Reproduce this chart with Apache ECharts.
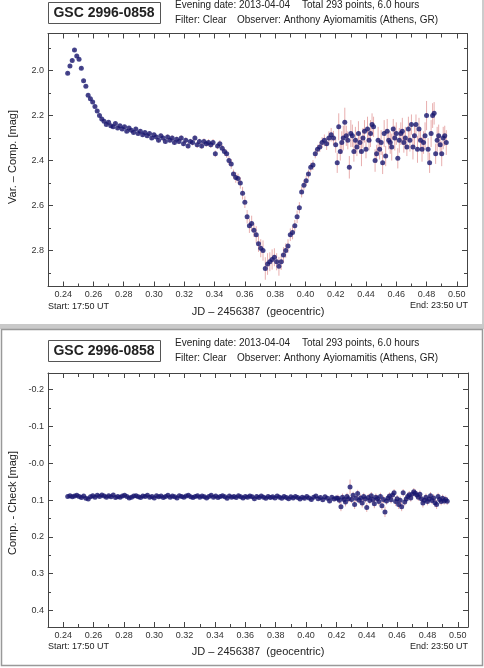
<!DOCTYPE html>
<html>
<head>
<meta charset="utf-8">
<title>GSC 2996-0858</title>
<script src="https://cdn.jsdelivr.net/npm/echarts@6.0.0/dist/echarts.min.js"></script>
<style>
  html, body { margin: 0; padding: 0; background: #fff; }
  #chart { width: 484px; height: 668px; }
</style>
</head>
<body>
<div id="chart"></div>
<script>
// time (JD - 2456387), one row = 10 points
var jd = [
  0.2430,0.2445,0.2460,0.2475,0.2490,0.2505,0.2520,0.2535,0.2550,0.2565,
  0.2580,0.2595,0.2610,0.2625,0.2640,0.2655,0.2670,0.2685,0.2700,0.2715,
  0.2730,0.2745,0.2760,0.2775,0.2790,0.2805,0.2820,0.2835,0.2850,0.2865,
  0.2880,0.2895,0.2910,0.2925,0.2940,0.2955,0.2970,0.2985,0.3000,0.3015,
  0.3030,0.3045,0.3060,0.3075,0.3090,0.3105,0.3120,0.3135,0.3150,0.3165,
  0.3180,0.3195,0.3210,0.3225,0.3240,0.3255,0.3270,0.3285,0.3300,0.3315,
  0.3330,0.3345,0.3360,0.3375,0.3390,0.3405,0.3420,0.3435,0.3450,0.3465,
  0.3480,0.3495,0.3510,0.3525,0.3540,0.3555,0.3570,0.3585,0.3600,0.3615,
  0.3630,0.3645,0.3660,0.3675,0.3690,0.3705,0.3720,0.3735,0.3750,0.3765,
  0.3780,0.3795,0.3810,0.3825,0.3840,0.3855,0.3870,0.3885,0.3900,0.3915,
  0.3930,0.3945,0.3960,0.3975,0.3990,0.4005,0.4020,0.4035,0.4050,0.4065,
  0.4080,0.4095,0.4110,0.4125,0.4140,0.4155,0.4170,0.4185,0.4200,
  0.421,0.422,0.423,0.424,0.425,0.426,0.427,0.428,0.429,0.430,
  0.431,0.432,0.433,0.434,0.435,0.436,0.437,0.438,0.439,0.440,
  0.441,0.442,0.443,0.444,0.445,0.446,0.447,0.448,0.449,0.450,
  0.451,0.452,0.453,0.454,0.455,0.456,0.457,0.458,0.459,0.460,
  0.461,0.462,0.463,0.464,0.465,0.466,0.467,0.468,0.469,0.470,
  0.471,0.472,0.473,0.474,0.475,0.476,0.477,0.478,0.479,0.480,
  0.481,0.482,0.483,0.484,0.485,0.486,0.487,0.488,0.489,0.490,
  0.491,0.492,0.493
];

// Var. - Comp. [mag]
var varComp = [
  2.012,1.980,1.955,1.908,1.935,1.950,1.990,2.045,2.070,2.110,
  2.125,2.140,2.160,2.180,2.200,2.215,2.225,2.240,2.230,2.245,
  2.250,2.235,2.255,2.245,2.260,2.250,2.270,2.255,2.265,2.275,
  2.260,2.280,2.270,2.285,2.275,2.290,2.280,2.300,2.285,2.295,
  2.310,2.290,2.300,2.315,2.295,2.310,2.300,2.320,2.305,2.315,
  2.300,2.325,2.310,2.335,2.315,2.320,2.300,2.330,2.315,2.335,
  2.315,2.325,2.320,2.330,2.320,2.370,2.335,2.325,2.345,2.360,
  2.370,2.400,2.415,2.460,2.475,2.480,2.500,2.545,2.585,2.650,
  2.690,2.680,2.710,2.730,2.770,2.790,2.800,2.880,2.860,2.850,
  2.840,2.830,2.850,2.870,2.850,2.820,2.800,2.780,2.730,2.720,
  2.690,2.650,2.610,2.540,2.510,2.490,2.460,2.430,2.420,2.370,
  2.350,2.340,2.320,2.310,2.325,2.300,2.285,2.300,2.330,
  2.41,2.25,2.36,2.32,2.30,2.23,2.29,2.31,2.43,2.28,
  2.29,2.36,2.31,2.34,2.28,2.32,2.36,2.30,2.27,2.35,
  2.26,2.31,2.28,2.24,2.25,2.40,2.37,2.31,2.35,2.32,
  2.41,2.28,2.38,2.27,2.31,2.32,2.34,2.26,2.30,2.28,
  2.39,2.31,2.28,2.27,2.32,2.30,2.34,2.26,2.31,2.24,
  2.34,2.29,2.24,2.35,2.26,2.31,2.35,2.32,2.29,2.20,
  2.35,2.41,2.28,2.20,2.19,2.37,2.31,2.29,2.33,2.37,
  2.30,2.29,2.32
];

var varErr = [
  0.006,0.006,0.006,0.006,0.006,0.006,0.006,0.006,0.006,0.006,
  0.006,0.006,0.006,0.006,0.006,0.006,0.006,0.006,0.006,0.006,
  0.007,0.007,0.007,0.007,0.007,0.007,0.007,0.007,0.007,0.007,
  0.008,0.008,0.008,0.008,0.008,0.008,0.008,0.008,0.008,0.008,
  0.010,0.010,0.012,0.010,0.011,0.010,0.012,0.010,0.011,0.012,
  0.012,0.011,0.013,0.012,0.012,0.013,0.012,0.014,0.012,0.013,
  0.014,0.013,0.015,0.014,0.016,0.015,0.014,0.016,0.015,0.018,
  0.018,0.020,0.022,0.020,0.024,0.022,0.025,0.028,0.026,0.030,
  0.032,0.035,0.030,0.038,0.036,0.040,0.045,0.050,0.048,0.042,
  0.045,0.040,0.038,0.042,0.036,0.035,0.032,0.030,0.028,0.030,
  0.026,0.028,0.025,0.024,0.022,0.022,0.020,0.020,0.022,0.020,
  0.020,0.022,0.024,0.026,0.028,0.030,0.030,0.032,0.035,
  0.045,0.060,0.040,0.050,0.055,0.065,0.045,0.040,0.050,0.060,
  0.050,0.045,0.060,0.040,0.055,0.050,0.065,0.045,0.050,0.040,
  0.055,0.045,0.060,0.050,0.045,0.050,0.040,0.060,0.045,0.055,
  0.050,0.060,0.045,0.055,0.040,0.050,0.060,0.045,0.055,0.050,
  0.045,0.055,0.050,0.060,0.045,0.050,0.040,0.055,0.050,0.045,
  0.055,0.050,0.045,0.060,0.050,0.045,0.055,0.050,0.060,0.065,
  0.050,0.045,0.060,0.055,0.050,0.045,0.060,0.050,0.045,0.055,
  0.050,0.045,0.055
];

// Comp. - Check [mag]
var compCheck = [
  0.090,0.088,0.091,0.089,0.087,0.090,0.093,0.089,0.095,0.097,
  0.091,0.088,0.092,0.087,0.090,0.086,0.089,0.092,0.088,0.091,
  0.086,0.093,0.090,0.092,0.089,0.087,0.090,0.094,0.092,0.089,
  0.088,0.091,0.093,0.089,0.090,0.087,0.092,0.090,0.094,0.088,
  0.091,0.089,0.093,0.090,0.087,0.092,0.089,0.091,0.094,0.088,
  0.090,0.092,0.089,0.087,0.091,0.093,0.090,0.088,0.092,0.089,
  0.091,0.094,0.090,0.087,0.092,0.089,0.093,0.090,0.088,0.091,
  0.095,0.089,0.092,0.090,0.093,0.088,0.091,0.094,0.090,0.092,
  0.089,0.091,0.096,0.090,0.093,0.089,0.092,0.095,0.090,0.093,
  0.091,0.094,0.089,0.092,0.095,0.090,0.093,0.096,0.091,0.094,
  0.090,0.093,0.097,0.092,0.095,0.090,0.094,0.098,0.092,0.089,
  0.096,0.093,0.099,0.091,0.095,0.102,0.092,0.097,0.094,
  0.095,0.100,0.118,0.092,0.098,0.105,0.090,0.096,0.064,0.098,
  0.087,0.112,0.095,0.082,0.100,0.094,0.108,0.090,0.097,0.120,
  0.093,0.101,0.088,0.098,0.110,0.092,0.096,0.104,0.090,0.115,
  0.098,0.132,0.102,0.094,0.089,0.099,0.086,0.080,0.104,0.096,
  0.112,0.100,0.118,0.080,0.105,0.097,0.090,0.085,0.094,0.083,
  0.077,0.081,0.086,0.092,0.084,0.096,0.108,0.100,0.092,0.104,
  0.097,0.088,0.101,0.094,0.107,0.112,0.090,0.098,0.104,0.095,
  0.102,0.098,0.103
];

var checkErr = [
  0.004,0.004,0.004,0.004,0.004,0.004,0.004,0.004,0.004,0.004,
  0.004,0.004,0.004,0.004,0.004,0.004,0.004,0.004,0.004,0.004,
  0.004,0.004,0.004,0.004,0.004,0.004,0.004,0.004,0.004,0.004,
  0.004,0.004,0.004,0.004,0.004,0.004,0.004,0.004,0.004,0.004,
  0.004,0.004,0.004,0.004,0.004,0.004,0.004,0.004,0.004,0.004,
  0.004,0.004,0.004,0.004,0.004,0.004,0.004,0.004,0.004,0.004,
  0.004,0.004,0.004,0.004,0.004,0.004,0.004,0.004,0.004,0.004,
  0.005,0.005,0.005,0.005,0.005,0.005,0.005,0.005,0.005,0.005,
  0.005,0.005,0.005,0.005,0.005,0.005,0.005,0.005,0.005,0.005,
  0.005,0.005,0.005,0.005,0.005,0.005,0.005,0.005,0.005,0.005,
  0.005,0.005,0.005,0.005,0.005,0.005,0.005,0.005,0.005,0.005,
  0.006,0.006,0.006,0.006,0.006,0.006,0.006,0.006,0.006,
  0.010,0.010,0.012,0.010,0.010,0.012,0.010,0.010,0.020,0.010,
  0.010,0.012,0.010,0.010,0.010,0.010,0.012,0.010,0.010,0.012,
  0.010,0.010,0.010,0.010,0.012,0.010,0.010,0.010,0.010,0.012,
  0.010,0.014,0.010,0.010,0.010,0.010,0.010,0.010,0.012,0.010,
  0.012,0.010,0.012,0.010,0.010,0.010,0.010,0.010,0.010,0.010,
  0.010,0.010,0.010,0.010,0.010,0.010,0.012,0.010,0.010,0.010,
  0.010,0.010,0.010,0.010,0.012,0.012,0.010,0.010,0.010,0.010,
  0.010,0.010,0.010
];

// tick positions
var xMajor = [0.24,0.26,0.28,0.30,0.32,0.34,0.36,0.38,0.40,0.42,0.44,0.46,0.48,0.50];
var xMinor = [0.25,0.27,0.29,0.31,0.33,0.35,0.37,0.39,0.41,0.43,0.45,0.47,0.49];
var yTopMajor = [2.0,2.2,2.4,2.6,2.8];
var yTopMinor = [1.9,2.1,2.3,2.5,2.7,2.9];
var yBotMajor = [-0.2,-0.1,0.0,0.1,0.2,0.3,0.4];
var yBotMinor = [-0.15,-0.05,0.05,0.15,0.25,0.35];

var FONT = '"Liberation Sans", Arial, sans-serif';
var AXC = '#444';
var X_MIN = 0.23, X_MAX = 0.5067;
var TOP_MIN = 1.835, TOP_MAX = 2.96;
var BOT_MIN = -0.2455, BOT_MAX = 0.4447;

function xAx(grid, pos, ticks, len, labels, line) {
  return {
    type: 'value', gridIndex: grid, position: pos, min: X_MIN, max: X_MAX,
    axisLine: { show: line, onZero: false, lineStyle: { color: AXC, width: 1 } },
    axisTick: { show: true, inside: true, length: len, customValues: ticks, lineStyle: { color: AXC } },
    axisLabel: { show: labels, customValues: ticks, margin: 4, fontSize: 9, color: '#333', fontFamily: FONT,
      formatter: function (v) { return v.toFixed(2); } },
    splitLine: { show: false }
  };
}
function yAx(grid, pos, mn, mx, ticks, len, labels, line) {
  return {
    type: 'value', gridIndex: grid, position: pos, min: mn, max: mx, inverse: true,
    axisLine: { show: line, onZero: false, lineStyle: { color: AXC, width: 1 } },
    axisTick: { show: true, inside: true, length: len, customValues: ticks, lineStyle: { color: AXC } },
    axisLabel: { show: labels, customValues: ticks, margin: 4, fontSize: 9, color: '#333', fontFamily: FONT,
      formatter: function (v) { return Math.abs(v) < 1e-9 ? '-0.0' : v.toFixed(1); } },
    splitLine: { show: false }
  };
}

function renderBar(params, api) {
  var a = api.coord([api.value(0), api.value(1)]);
  var b = api.coord([api.value(0), api.value(2)]);
  return { type: 'line', shape: { x1: a[0], y1: a[1], x2: b[0], y2: b[1] },
    style: { stroke: '#e8aeae', lineWidth: 1 } };
}

var topPts = [], topBars = [], botPts = [], botBars = [];
for (var i = 0; i < jd.length; i++) {
  topPts.push([jd[i], varComp[i]]);
  topBars.push([jd[i], varComp[i] - varErr[i], varComp[i] + varErr[i]]);
  botPts.push([jd[i], compCheck[i]]);
  botBars.push([jd[i], compCheck[i] - checkErr[i], compCheck[i] + checkErr[i]]);
}

function txt(x, y, s, size, align, opts) {
  var o = { type: 'text', x: x, y: y, z: 10,
    style: { text: s, font: (opts && opts.bold ? 'bold ' : '') + size + 'px ' + FONT,
      fill: '#222', align: align, textAlign: align, verticalAlign: 'middle', textVerticalAlign: 'middle' } };
  if (opts && opts.rot) o.rotation = opts.rot;
  return o;
}

function header(dy) {
  return [
    { type: 'rect', z: 9, shape: { x: 48.5, y: 2.5 + dy, width: 112, height: 21 },
      style: { fill: '#fff', stroke: '#555', lineWidth: 1 } },
    txt(104, 13 + dy, 'GSC 2996-0858', 14, 'center', { bold: true }),
    txt(175, 5 + dy, 'Evening date: 2013-04-04', 10, 'left'),
    txt(302, 5 + dy, 'Total 293 points, 6.0 hours', 10, 'left'),
    txt(175, 20 + dy, 'Filter: Clear', 10, 'left'),
    txt(237, 20 + dy, 'Observer: Anthony Ayiomamitis (Athens, GR)', 10, 'left')
  ];
}

var graphics = [
  { type: 'rect', z: 1, shape: { x: 0, y: 324, width: 484, height: 5 }, style: { fill: '#c9c9c9' } },
  { type: 'rect', z: 1, shape: { x: 1.5, y: 329.5, width: 481, height: 336 }, style: { fill: 'none', stroke: '#999', lineWidth: 1.5 } },
  { type: 'line', z: 1, shape: { x1: 483, y1: 0, x2: 483, y2: 324 }, style: { stroke: '#bbb', lineWidth: 1.5 } },
  txt(48, 307, 'Start: 17:50 UT', 9, 'left'),
  txt(468, 306, 'End: 23:50 UT', 9, 'right'),
  txt(258, 312, 'JD \u2013 2456387  (geocentric)', 11, 'center'),
  txt(13, 157, 'Var. \u2013 Comp. [mag]', 11, 'center', { rot: Math.PI / 2 }),
  txt(48, 647, 'Start: 17:50 UT', 9, 'left'),
  txt(468, 647, 'End: 23:50 UT', 9, 'right'),
  txt(258, 652, 'JD \u2013 2456387  (geocentric)', 11, 'center'),
  txt(13, 503, 'Comp. - Check [mag]', 11, 'center', { rot: Math.PI / 2 })
].concat(header(0)).concat(header(338));

var chart = echarts.init(document.getElementById('chart'));
chart.setOption({
  animation: false,
  backgroundColor: '#fff',
  grid: [
    { left: 48, top: 33.5, width: 419, height: 253 },
    { left: 48, top: 373, width: 420, height: 254 },
    { left: 48, top: 33.5, width: 419, height: 253 },
    { left: 48, top: 373, width: 420, height: 254 }
  ],
  xAxis: [
    xAx(0, 'bottom', xMajor, 5, true, true),
    xAx(0, 'top', xMajor, 5, false, true),
    xAx(1, 'bottom', xMajor, 5, true, true),
    xAx(1, 'top', xMajor, 5, false, true),
    xAx(2, 'bottom', xMinor, 3, false, false),
    xAx(2, 'top', xMinor, 4, false, false),
    xAx(3, 'bottom', xMinor, 3, false, false),
    xAx(3, 'top', xMinor, 4, false, false)
  ],
  yAxis: [
    yAx(0, 'left', TOP_MIN, TOP_MAX, yTopMajor, 5, true, true),
    yAx(0, 'right', TOP_MIN, TOP_MAX, yTopMajor, 5, false, true),
    yAx(1, 'left', BOT_MIN, BOT_MAX, yBotMajor, 5, true, true),
    yAx(1, 'right', BOT_MIN, BOT_MAX, yBotMajor, 5, false, true),
    yAx(2, 'left', TOP_MIN, TOP_MAX, yTopMinor, 3, false, false),
    yAx(2, 'right', TOP_MIN, TOP_MAX, yTopMinor, 3, false, false),
    yAx(3, 'left', BOT_MIN, BOT_MAX, yBotMinor, 3, false, false),
    yAx(3, 'right', BOT_MIN, BOT_MAX, yBotMinor, 3, false, false)
  ],
  series: [
    { type: 'custom', xAxisIndex: 0, yAxisIndex: 0, renderItem: renderBar,
      encode: { x: 0, y: [1, 2] }, data: topBars, silent: true },
    { type: 'scatter', xAxisIndex: 0, yAxisIndex: 0, data: topPts,
      symbol: 'circle', symbolSize: 5, itemStyle: { color: '#17176f' } },
    { type: 'custom', xAxisIndex: 2, yAxisIndex: 2, renderItem: renderBar,
      encode: { x: 0, y: [1, 2] }, data: botBars, silent: true },
    { type: 'scatter', xAxisIndex: 2, yAxisIndex: 2, data: botPts,
      symbol: 'circle', symbolSize: 5, itemStyle: { color: '#17176f' } }
  ],
  graphic: graphics
});
</script>
</body>
</html>
